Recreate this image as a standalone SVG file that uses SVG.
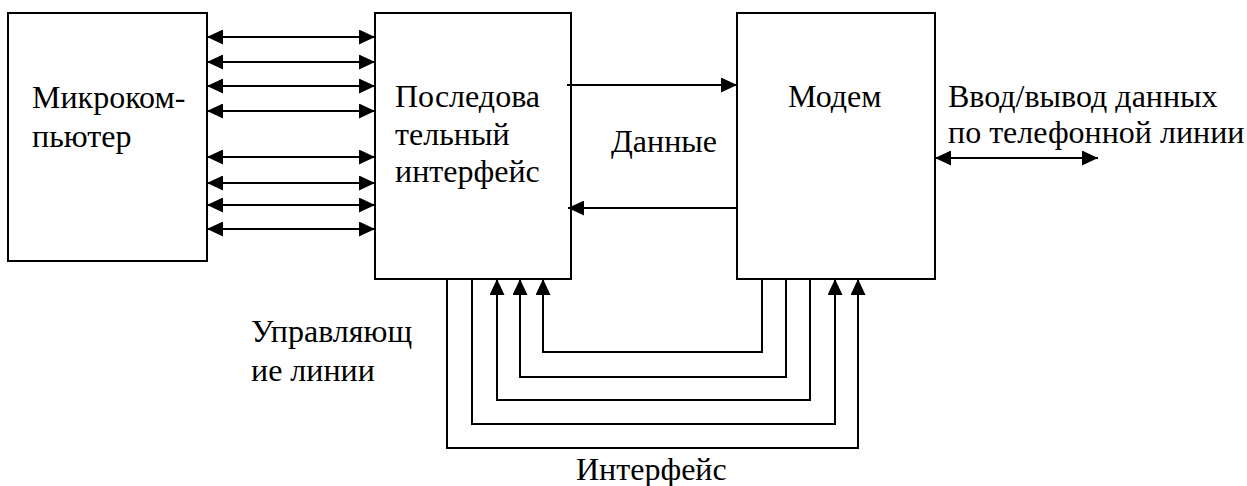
<svg xmlns="http://www.w3.org/2000/svg" width="1247" height="486" viewBox="0 0 1247 486">
<style>
.box{fill:#fff;stroke:#000;stroke-width:2}
.ln{fill:none;stroke:#000;stroke-width:2}
text{font-family:"Liberation Serif","Times New Roman",serif;font-size:32px;fill:#000}
</style>
<defs>
<marker id="ah" viewBox="0 0 16 15" refX="16" refY="7.5" markerWidth="16" markerHeight="15" markerUnits="userSpaceOnUse" orient="auto-start-reverse">
<path d="M0,0 L16,7.5 L0,15 Z" fill="#000"/>
</marker>
</defs>
<rect width="1247" height="486" fill="#fff"/>
<g id="micro">
<rect class="box" x="8" y="13" width="199" height="248"/>
<text x="32" y="108">Микроком-</text>
<text x="32" y="147">пьютер</text>
</g>
<g id="serial">
<rect class="box" x="375" y="13" width="196" height="266"/>
<text x="395" y="107">Последова</text>
<text x="395" y="145">тельный</text>
<text x="395" y="182">интерфейс</text>
</g>
<g id="modem">
<rect class="box" x="737" y="13" width="198" height="266"/>
<text x="788" y="107">Модем</text>
</g>
<g id="labels">
<text x="948" y="107">Ввод/вывод данных</text>
<text x="948" y="143">по телефонной линии</text>
<text x="611" y="152">Данные</text>
<text x="251" y="342">Управляющ</text>
<text x="251" y="381">ие линии</text>
<text x="576" y="480">Интерфейс</text>
</g>
<g id="connectors">
<line class="ln" x1="207" y1="37" x2="375" y2="37" marker-start="url(#ah)" marker-end="url(#ah)"/>
<line class="ln" x1="207" y1="62" x2="375" y2="62" marker-start="url(#ah)" marker-end="url(#ah)"/>
<line class="ln" x1="207" y1="86" x2="375" y2="86" marker-start="url(#ah)" marker-end="url(#ah)"/>
<line class="ln" x1="207" y1="111" x2="375" y2="111" marker-start="url(#ah)" marker-end="url(#ah)"/>
<line class="ln" x1="207" y1="157" x2="375" y2="157" marker-start="url(#ah)" marker-end="url(#ah)"/>
<line class="ln" x1="207" y1="183" x2="375" y2="183" marker-start="url(#ah)" marker-end="url(#ah)"/>
<line class="ln" x1="207" y1="205" x2="375" y2="205" marker-start="url(#ah)" marker-end="url(#ah)"/>
<line class="ln" x1="207" y1="229" x2="375" y2="229" marker-start="url(#ah)" marker-end="url(#ah)"/>
<line class="ln" x1="567" y1="85" x2="737" y2="85" marker-end="url(#ah)"/>
<line class="ln" x1="737" y1="208" x2="568" y2="208" marker-end="url(#ah)"/>
<line class="ln" x1="935" y1="158" x2="1098" y2="158" marker-start="url(#ah)" marker-end="url(#ah)"/>
<polyline class="ln" points="762,279 762,352 543,352 543,279" marker-end="url(#ah)"/>
<polyline class="ln" points="786,279 786,377 520,377 520,279" marker-end="url(#ah)"/>
<polyline class="ln" points="810,279 810,400 497,400 497,279" marker-end="url(#ah)"/>
<polyline class="ln" points="472,279 472,424 835,424 835,279" marker-end="url(#ah)"/>
<polyline class="ln" points="447,279 447,448 858,448 858,279" marker-end="url(#ah)"/>
</g>
</svg>
